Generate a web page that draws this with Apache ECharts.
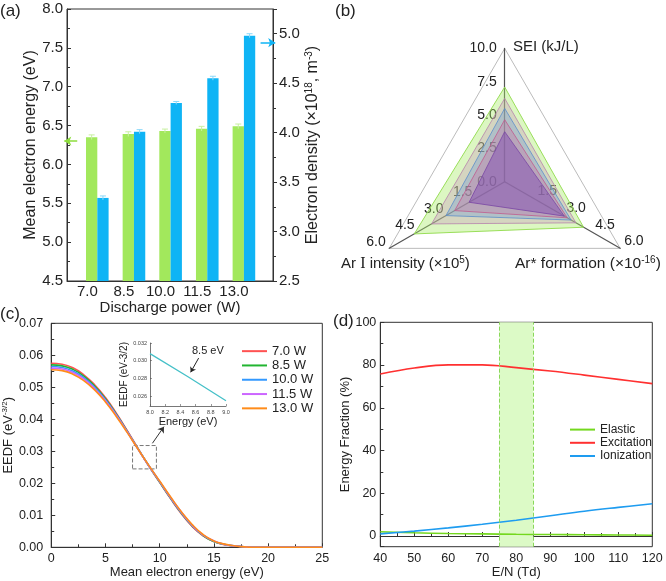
<!DOCTYPE html>
<html><head><meta charset="utf-8">
<script src="https://cdn.jsdelivr.net/npm/echarts@6/dist/echarts.min.js"></script>
<style>html,body{margin:0;padding:0;background:#fff}#c{width:666px;height:581px}</style>
</head><body><div id="c"></div><script>
// ---------- (a) data ----------
const powers = [7.0, 8.5, 10.0, 11.5, 13.0];
const meanEnergy = [6.35, 6.39, 6.43, 6.46, 6.49];
const meanEnergyErr = [0.03, 0.03, 0.025, 0.03, 0.03];
const electronDensity = [3.34, 4.01, 4.30, 4.55, 4.98];
const electronDensityErr = [0.02, 0.02, 0.015, 0.02, 0.02];
// ---------- (b) data ----------
const radarSEI = [3.75, 4.65, 5.5, 6.25, 7.1];
const radarArI = [1.85, 2.6, 3.05, 3.8, 4.7];
const radarArStar = [3.1, 3.25, 3.45, 3.7, 4.1];
// ---------- (c) data ----------
const eedfEnergy = [0,1,2,3,4,5,6,7,8,9,10,11,12,13,14,15,16,17,18,19,20,21,22,23,24,25];
const eedf7W   = [0.0575,0.0572,0.0561,0.0539,0.0508,0.0468,0.0419,0.0365,0.0309,0.0254,0.0203,0.0152,0.0105,0.0065,0.0036,0.0018,0.0008,0.0004,0.0001,0,0,0,0,0,0,0];
const eedf8_5W = [0.0570,0.0567,0.0556,0.0535,0.0504,0.0464,0.0416,0.0363,0.0308,0.0255,0.0204,0.0154,0.0107,0.0067,0.0037,0.0018,0.0009,0.0004,0.0001,0,0,0,0,0,0,0];
const eedf10W  = [0.0565,0.0562,0.0551,0.0530,0.0500,0.0461,0.0414,0.0362,0.0308,0.0255,0.0205,0.0155,0.0108,0.0068,0.0038,0.0019,0.0009,0.0004,0.0001,0,0,0,0,0,0,0];
const eedf11_5W= [0.0560,0.0557,0.0546,0.0526,0.0496,0.0458,0.0412,0.0361,0.0307,0.0255,0.0206,0.0156,0.0110,0.0069,0.0039,0.0020,0.0009,0.0004,0.0001,0,0,0,0,0,0,0];
const eedf13W  = [0.0555,0.0552,0.0541,0.0521,0.0492,0.0454,0.0409,0.0359,0.0307,0.0256,0.0207,0.0158,0.0111,0.0071,0.0040,0.0020,0.0010,0.0004,0.0001,0,0,0,0,0,0,0];
const insetEnergy = [8.0, 8.5, 9.0];
const insetEEDF = [0.0308, 0.0282, 0.0255];
// ---------- (d) data ----------
const reducedField = [40,50,60,70,80,90,100,110,120];
const elastic    = [2.0, 1.5, 1.2, 1.0, 0.8, 0.7, 0.6, 0.5, 0.35];
const excitation = [75.8, 78.6, 80.1, 80.1, 78.8, 77.2, 75.3, 73.3, 71.3];
const ionization = [1.0, 2.3, 3.8, 5.5, 7.4, 9.5, 11.6, 13.4, 15.1];

const FONT = 'Liberation Sans, Arial, sans-serif';
const chart = echarts.init(document.getElementById('c'), null, {renderer:'canvas'});
const pairs = (xs, ys) => xs.map((x,i)=>[x, ys[i]]);

function errRender(offset, color){
  return function(params, api){
    const x = api.value(0), y = api.value(1), e = api.value(2);
    const t = api.coord([x, y+e]), b = api.coord([x, y-e]);
    const cx = t[0] + offset;
    const st = {stroke: color, lineWidth: 1};
    return {type:'group', children:[
      {type:'line', shape:{x1:cx,y1:t[1],x2:cx,y2:b[1]}, style:st},
      {type:'line', shape:{x1:cx-3,y1:t[1],x2:cx+3,y2:t[1]}, style:st}
    ]};
  };
}

const axisBase = {
  axisLine:{show:true, lineStyle:{color:'#333', width:1}},
  splitLine:{show:false},
  axisLabel:{color:'#222', fontFamily:FONT},
  nameTextStyle:{color:'#222', fontFamily:FONT}
};
function ax(o){ return echarts.util.merge(echarts.util.clone(axisBase), o, true); }

const eedfColors = ['#ff5252','#22b531','#3399ff','#cc66ff','#ff8c1a'];
const eedfNames = ['7.0 W','8.5 W','10.0 W','11.5 W','13.0 W'];
const eedfData = [eedf7W, eedf8_5W, eedf10W, eedf11_5W, eedf13W];

const option = {
  animation:false,
  textStyle:{fontFamily:FONT},
  grid:[
    {left:67, top:9, width:206, height:272, show:true, borderColor:'#333', borderWidth:1},
    {left:50, top:323.3, width:272.3, height:224, show:true, borderColor:'#333', borderWidth:1},
    {left:380.3, top:322.3, width:272, height:224.4, show:true, borderColor:'#333', borderWidth:1},
    {left:150, top:343, width:76, height:63, show:false}
  ],
  xAxis:[
    ax({gridIndex:0, type:'value', min:5.76, max:14.19,
      axisTick:{show:false},
      axisLabel:{customValues:powers, fontSize:15, margin:3, padding:[0,20,0,0], formatter:v=>v.toFixed(1)},
      name:'Discharge power (W)', nameLocation:'middle', nameGap:17, nameTextStyle:{fontSize:15}}),
    ax({gridIndex:1, type:'value', min:0, max:25, interval:5,
      axisTick:{show:true, inside:true, length:4},
      minorTick:{show:true, splitNumber:2, length:3},
      axisLabel:{fontSize:12.5, margin:5},
      name:'Mean electron energy (eV)', nameLocation:'middle', nameGap:17, nameTextStyle:{fontSize:13}}),
    ax({gridIndex:2, type:'value', min:40, max:120, interval:10,
      axisTick:{show:true, inside:true, length:4},
      minorTick:{show:true, splitNumber:2, length:3},
      axisLabel:{fontSize:12.5, margin:5},
      name:'E/N (Td)', nameLocation:'middle', nameGap:19, nameTextStyle:{fontSize:13}}),
    ax({gridIndex:3, type:'value', min:8, max:9, interval:0.2,
      axisLine:{lineStyle:{color:'#555', width:0.8}},
      axisTick:{show:true, inside:true, length:2, lineStyle:{color:'#555', width:0.6}},
      axisLabel:{fontSize:5.5, margin:3, color:'#444', formatter:v=>v.toFixed(1)},
      name:'Energy (eV)', nameLocation:'middle', nameGap:10, nameTextStyle:{fontSize:11}})
  ],
  yAxis:[
    ax({gridIndex:0, type:'value', min:4.5, max:8.0, interval:0.5, position:'left',
      axisTick:{show:true, inside:true, length:4},
      minorTick:{show:true, splitNumber:2, length:3},
      axisLabel:{fontSize:15, margin:4, formatter:v=>v.toFixed(1)},
      name:'Mean electron energy (eV)', nameLocation:'middle', nameGap:27, nameRotate:90, nameTextStyle:{fontSize:16}}),
    ax({gridIndex:0, type:'value', min:2.5, max:5.25, interval:0.5, position:'right',
      axisTick:{show:true, inside:false, length:4},
      minorTick:{show:true, splitNumber:2, length:3},
      axisLabel:{fontSize:15, margin:6, formatter:v=> v>5.01 ? '' : v.toFixed(1)},
      name:'Electron density (×10{sup|18}, m{sup|-3})', nameLocation:'middle', nameGap:31, nameRotate:90,
      nameTextStyle:{fontSize:16, rich:{sup:{fontSize:10, padding:[0,0,8,0]}}}}),
    ax({gridIndex:1, type:'value', min:0, max:0.07, interval:0.01,
      axisTick:{show:true, inside:true, length:4},
      minorTick:{show:true, splitNumber:2, length:3},
      axisLabel:{fontSize:12.5, margin:8, formatter:v=>v.toFixed(2)},
      name:'EEDF (eV{sup|-3/2})', nameLocation:'middle', nameGap:31, nameRotate:90,
      nameTextStyle:{fontSize:13, rich:{sup:{fontSize:8, padding:[0,0,7,0]}}}}),
    ax({gridIndex:2, type:'value', min:-5, max:100, splitNumber:5,
      axisTick:{show:true, inside:true, length:4},
      minorTick:{show:true, splitNumber:2, length:3},
      axisLabel:{fontSize:12.5, margin:4, showMinLabel:false},
      name:'Energy Fraction (%)', nameLocation:'middle', nameGap:26, nameRotate:90, nameTextStyle:{fontSize:13}}),
    ax({gridIndex:3, type:'value', min:0.0249, max:0.032, splitNumber:3,
      axisLine:{lineStyle:{color:'#555', width:0.8}},
      axisTick:{show:true, inside:true, length:2, lineStyle:{color:'#555', width:0.6}},
      axisLabel:{fontSize:5.5, margin:3, color:'#444', showMinLabel:false, formatter:v=>v.toFixed(3)},
      name:'EEDF (eV-3/2)', nameLocation:'middle', nameGap:11, nameRotate:90, nameTextStyle:{fontSize:10}})
  ],
  radar:{
    center:[504.7, 181.7], radius:133.3, startAngle:90, splitNumber:4, shape:'polygon',
    indicator:[
      {name:'SEI', min:0, max:10},
      {name:'ArI', min:0, max:6, axisLabel:{showMinLabel:false, margin:-7, align:'right', verticalAlign:'middle'}},
      {name:'ArStar', min:0, max:6, axisLabel:{showMinLabel:false}}
    ],
    axisName:{show:false},
    axisLine:{lineStyle:{color:'#555', width:1.2}},
    splitLine:{lineStyle:{color:['rgba(0,0,0,0)','rgba(0,0,0,0)','rgba(0,0,0,0)','rgba(0,0,0,0)','#bbb'], width:1}},
    splitArea:{show:false},
    axisTick:{show:false},
    axisLabel:{show:true, fontSize:14, color:'#222', fontFamily:FONT, formatter:v=>Number(v).toFixed(1)}
  },
  legend:[
    {data:eedfNames, orient:'vertical', left:237, top:339, itemWidth:25, itemHeight:2, itemGap:0, icon:'rect',
     textStyle:{fontSize:13, color:'#222', lineHeight:14.3, fontFamily:FONT}},
    {data:['Elastic','Excitation','Ionization'], orient:'vertical', left:565, top:418, itemWidth:25, itemHeight:2, itemGap:0, icon:'rect',
     textStyle:{fontSize:12, color:'#222', lineHeight:13.2, fontFamily:FONT}}
  ],
  series:[
    {type:'bar', name:'meanE', xAxisIndex:0, yAxisIndex:0, barWidth:11.3, barGap:'0%', data:pairs(powers, meanEnergy),
     itemStyle:{color:'#a2e85c'}, z:2,
     markLine:{silent:true, symbol:['none','arrow'], symbolSize:7, label:{show:false},
       lineStyle:{color:'#8cdc3c', width:1.5, type:'solid'},
       data:[[{coord:[6.41, 6.3]},{coord:[5.88, 6.3]}]]}},
    {type:'bar', name:'ne', xAxisIndex:0, yAxisIndex:1, barWidth:11.3, barGap:'0%', data:pairs(powers, electronDensity),
     itemStyle:{color:'#0fb4f5'}, z:2,
     markLine:{silent:true, symbol:['none','arrow'], symbolSize:7, label:{show:false},
       lineStyle:{color:'#0fb4f5', width:1.5, type:'solid'},
       data:[[{coord:[13.45, 4.91]},{coord:[14.05, 4.91]}]]}},
    {type:'custom', name:'meanEerr', xAxisIndex:0, yAxisIndex:0, z:3,
     renderItem:errRender(-5.65, '#c8f0a0'), data:powers.map((p,i)=>[p, meanEnergy[i], meanEnergyErr[i]])},
    {type:'custom', name:'neErr', xAxisIndex:0, yAxisIndex:1, z:3,
     renderItem:errRender(5.65, '#8ad8fa'), data:powers.map((p,i)=>[p, electronDensity[i], electronDensityErr[i]])},
    {type:'radar', name:'radar', symbol:'none',
     data:[
       {value:[radarSEI[4], radarArI[4], radarArStar[4]], lineStyle:{color:'rgba(140,215,70,0.9)', width:1}, areaStyle:{color:'rgba(165,235,95,0.55)'}},
       {value:[radarSEI[3], radarArI[3], radarArStar[3]], lineStyle:{color:'rgba(180,130,170,0.8)', width:1}, areaStyle:{color:'rgba(195,140,185,0.45)'}},
       {value:[radarSEI[2], radarArI[2], radarArStar[2]], lineStyle:{color:'rgba(90,140,200,0.8)', width:1}, areaStyle:{color:'rgba(100,150,215,0.45)'}},
       {value:[radarSEI[1], radarArI[1], radarArStar[1]], lineStyle:{color:'rgba(190,90,140,0.8)', width:1}, areaStyle:{color:'rgba(205,95,150,0.4)'}},
       {value:[radarSEI[0], radarArI[0], radarArStar[0]], lineStyle:{color:'rgba(120,70,160,0.8)', width:1}, areaStyle:{color:'rgba(125,70,175,0.65)'}}
     ]},
    // (c) helper: dashed box + arrow
    {type:'line', name:'box', xAxisIndex:1, yAxisIndex:2, data:[], silent:true,
     markArea:{silent:true, itemStyle:{color:'rgba(0,0,0,0)', borderColor:'#777', borderWidth:1, borderType:'dashed'},
       data:[[{coord:[7.5, 0.0245]},{coord:[9.7, 0.0318]}]]},
     markLine:{silent:true, symbol:['none','arrow'], symbolSize:6, label:{show:false},
       lineStyle:{color:'#333', width:1, type:'solid'},
       data:[[{coord:[9.33, 0.0325]},{coord:[10.4, 0.0377]}]]}},
    ...eedfData.map((d,i)=>({type:'line', name:eedfNames[i], xAxisIndex:1, yAxisIndex:2, data:pairs(eedfEnergy, d),
      showSymbol:false, smooth:0.5, lineStyle:{width:1.6, color:eedfColors[i]}, itemStyle:{color:eedfColors[i]}, z:3})),
    {type:'line', name:'inset', xAxisIndex:3, yAxisIndex:4, data:pairs(insetEnergy, insetEEDF), showSymbol:false,
     lineStyle:{width:1.3, color:'#45c0c8'}, itemStyle:{color:'#45c0c8'},
     markLine:{silent:true, symbol:['none','arrow'], symbolSize:5, label:{show:false},
       lineStyle:{color:'#222', width:1, type:'solid'},
       data:[[{coord:[8.64, 0.0303]},{coord:[8.535, 0.0287]}]]}},
    // (d)
    {type:'line', name:'band', xAxisIndex:2, yAxisIndex:3, data:[], silent:true, z:1,
     markArea:{silent:true, itemStyle:{color:'#dcfac6'}, data:[[{xAxis:75},{xAxis:85}]]},
     markLine:{silent:true, symbol:['none','none'], label:{show:false},
       lineStyle:{color:'#8ad85a', width:1, type:'dashed'}, data:[{xAxis:75},{xAxis:85}]}},
    {type:'line', name:'Elastic', xAxisIndex:2, yAxisIndex:3, data:pairs(reducedField, elastic), showSymbol:false, smooth:0.4,
     lineStyle:{width:1.6, color:'#74d81e'}, itemStyle:{color:'#74d81e'}, z:3},
    {type:'line', name:'Excitation', xAxisIndex:2, yAxisIndex:3, data:pairs(reducedField, excitation), showSymbol:false, smooth:0.4,
     lineStyle:{width:1.6, color:'#ff3030'}, itemStyle:{color:'#ff3030'}, z:3},
    {type:'line', name:'Ionization', xAxisIndex:2, yAxisIndex:3, data:pairs(reducedField, ionization), showSymbol:false, smooth:0.4,
     lineStyle:{width:1.6, color:'#1e9cf0'}, itemStyle:{color:'#1e9cf0'}, z:3}
  ],
  graphic:[
    {type:'text', left:0, top:3, style:{text:'(a)', fontSize:17, fill:'#222', fontFamily:FONT}},
    {type:'text', left:335, top:3, style:{text:'(b)', fontSize:17, fill:'#222', fontFamily:FONT}},
    {type:'text', left:0, top:306, style:{text:'(c)', fontSize:17, fill:'#222', fontFamily:FONT}},
    {type:'text', left:333, top:313, style:{text:'(d)', fontSize:17, fill:'#222', fontFamily:FONT}},
    {type:'text', left:513, top:39, style:{text:'SEI (kJ/L)', fontSize:15, fill:'#222', fontFamily:FONT}},
    {type:'text', left:341, top:255, style:{text:'Ar {r|I} intensity (×10{sup|5})', fontSize:15, fill:'#222', fontFamily:FONT,
       rich:{r:{fontFamily:'Liberation Serif, serif', fontSize:16}, sup:{fontSize:10, padding:[0,0,8,0]}}}},
    {type:'text', left:515, top:255, style:{text:'Ar* formation (×10{sup|-16})', fontSize:15.5, fill:'#222', fontFamily:FONT,
       rich:{sup:{fontSize:10, padding:[0,0,8,0]}}}},
    {type:'text', left:192, top:345, style:{text:'8.5 eV', fontSize:11, fill:'#222', fontFamily:FONT}}
  ]
};
chart.setOption(option);
</script></body></html>
